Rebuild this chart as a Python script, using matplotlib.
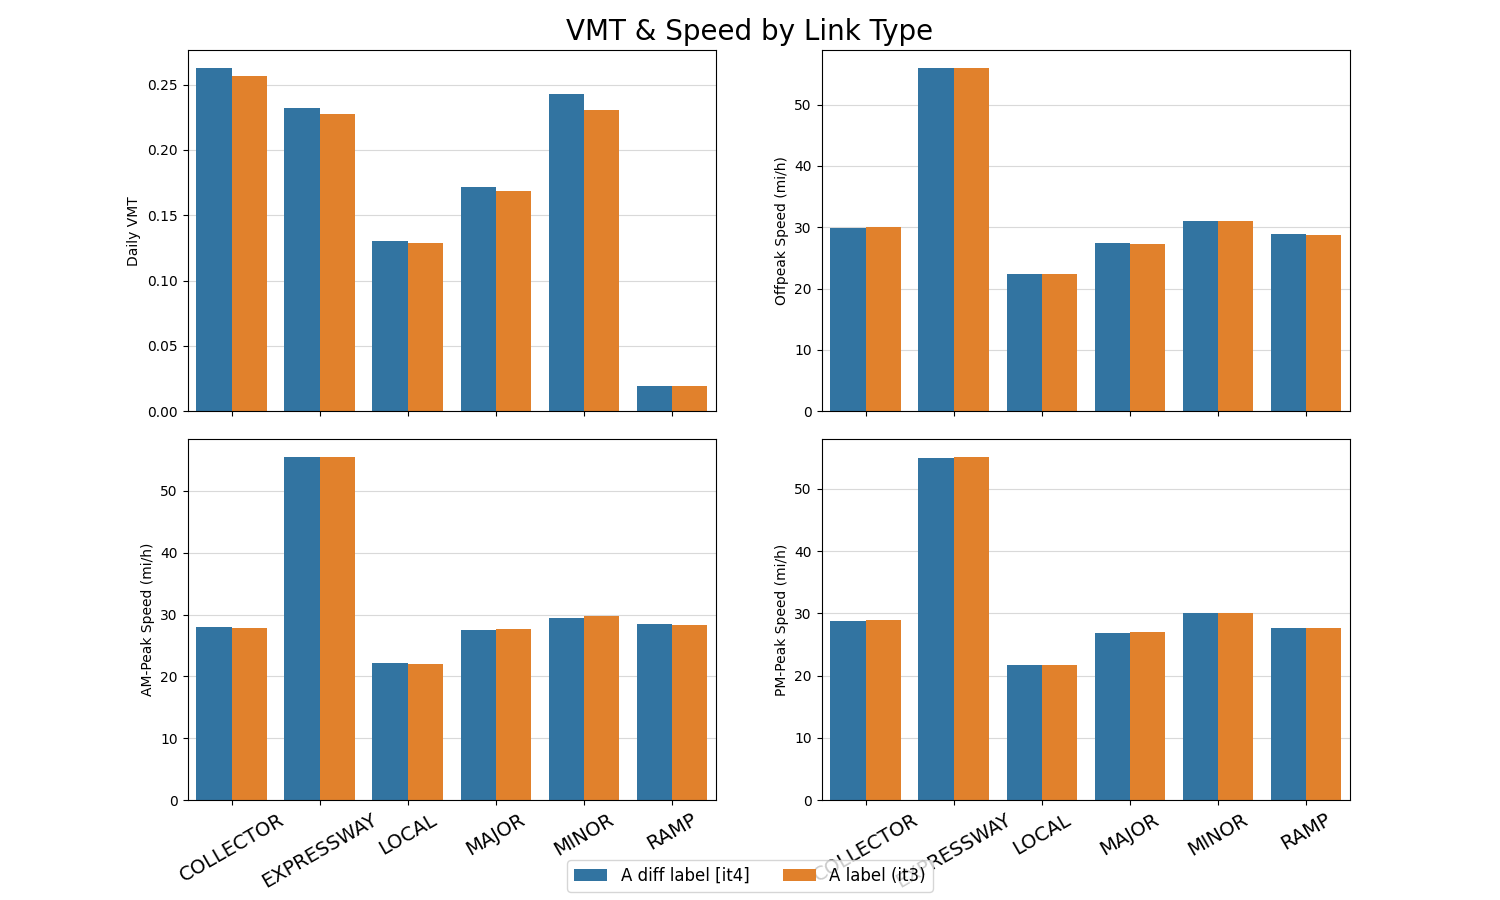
import numpy as np
import matplotlib
matplotlib.use("Agg")
import matplotlib.pyplot as plt

# link types along the x axis
link_types = ["COLLECTOR", "EXPRESSWAY", "LOCAL", "MAJOR", "MINOR", "RAMP"]
series_names = ["A diff label [it4]", "A label (it3)"]

# values per run (it4, it3)
vmt_it4 = [0.2630, 0.2317, 0.1300, 0.1713, 0.2424, 0.0191]
vmt_it3 = [0.2569, 0.2271, 0.1284, 0.1682, 0.2309, 0.0191]

offpeak_it4 = [29.8, 56.02, 22.35, 27.4, 31.0, 28.9]
offpeak_it3 = [30.0, 56.02, 22.35, 27.25, 31.0, 28.7]

ampeak_it4 = [28.02, 55.56, 22.19, 27.54, 29.48, 28.51]
ampeak_it3 = [27.86, 55.40, 22.03, 27.70, 29.80, 28.35]

pmpeak_it4 = [28.81, 54.88, 21.73, 26.88, 30.10, 27.68]
pmpeak_it3 = [28.97, 55.20, 21.73, 27.04, 30.10, 27.68]

colors = ["#3274a1", "#e1812c"]

panels = [
    ("Daily VMT", vmt_it4, vmt_it3),
    ("Offpeak Speed (mi/h)", offpeak_it4, offpeak_it3),
    ("AM-Peak Speed (mi/h)", ampeak_it4, ampeak_it3),
    ("PM-Peak Speed (mi/h)", pmpeak_it4, pmpeak_it3),
]

fig, axes = plt.subplots(2, 2, figsize=(15, 9), dpi=100, sharex=True)
fig.subplots_adjust(left=0.125, right=0.9, top=0.944, bottom=0.111,
                    wspace=0.2, hspace=0.078)

x = np.arange(len(link_types))
w = 0.4
handles = []
for ax, (ylabel, v4, v3) in zip(axes.flat, panels):
    ax.set_axisbelow(True)
    ax.grid(axis="y", color="#d9d9d9", linewidth=0.8)
    b1 = ax.bar(x - w / 2, v4, width=w, color=colors[0], label=series_names[0])
    b2 = ax.bar(x + w / 2, v3, width=w, color=colors[1], label=series_names[1])
    handles = [b1, b2]
    ax.set_ylabel(ylabel)
    ax.set_xlim(-0.5, len(link_types) - 0.5)
    ax.set_ylim(0, max(max(v4), max(v3)) * 1.05)

for ax in axes[1]:
    ax.set_xticks(x)
    ax.set_xticklabels(link_types, rotation=30, fontsize=14)

fig.suptitle("VMT & Speed by Link Type", fontsize=20)
fig.legend(handles, series_names, loc="lower center", ncol=2, fontsize=12)

plt.savefig("out.png", dpi=100)
